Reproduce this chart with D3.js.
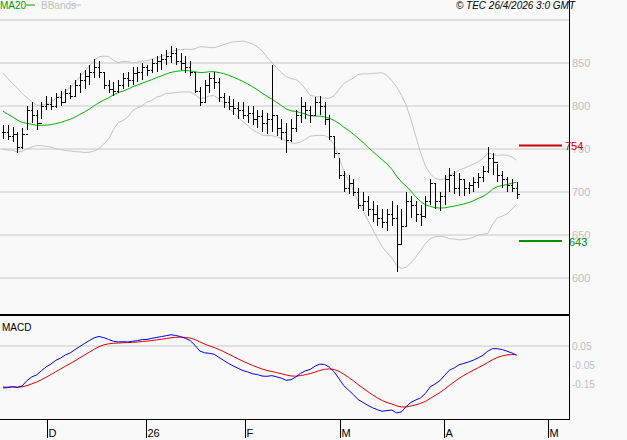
<!DOCTYPE html>
<html><head><meta charset="utf-8">
<script src="https://cdn.jsdelivr.net/npm/d3@7"></script>
<style>body{margin:0;background:#f9f9f9}svg{display:block}</style>
</head><body>
<script>
// closes before the visible window (only used to warm up MA20 / BBands / MACD)
const history = [860, 855, 862, 850, 845, 848, 840, 835, 830, 825, 822, 818, 812, 805, 800, 795, 790, 785, 780, 775,
                 778, 772, 770, 776, 772, 768];
// visible daily bars: [high, low, close]
const bars = [
  [778,762,770],[778,760,765],[776,758,768],[770,745,752],[775,750,768],[800,772,795],[805,780,790],[795,772,780],
  [805,785,800],[812,795,802],[810,795,800],[815,798,810],[818,800,805],[820,805,815],[825,808,812],[830,810,825],
  [838,815,830],[842,820,835],[848,825,840],[855,832,845],[852,832,840],[840,820,825],[830,815,820],[828,812,818],
  [830,815,825],[838,820,832],[840,822,830],[845,825,838],[845,828,840],[850,830,845],[848,835,842],[855,838,850],
  [858,840,852],[860,842,855],[865,848,858],[870,850,862],[868,848,852],[862,842,850],[858,838,845],[852,835,840],
  [840,815,818],[822,800,805],[830,805,825],[838,815,832],[840,820,828],[832,805,810],[815,798,805],[812,795,800],
  [808,790,798],[805,785,795],[805,785,790],[800,780,792],[800,778,785],[795,775,788],[795,770,780],[792,768,785],
  [848,770,790],[790,765,775],[785,760,770],[780,745,760],[785,758,775],[795,770,790],[810,780,800],[805,785,795],
  [800,780,790],[810,788,805],[812,790,800],[805,778,785],[790,760,765],[765,740,745],[740,715,720],[725,700,705],
  [720,698,710],[715,695,700],[705,680,685],[700,678,690],[695,672,680],[690,665,675],[685,660,670],[680,658,665],
  [680,655,675],[690,660,670],[685,607,640],[680,640,660],[700,660,690],[695,670,685],[690,665,675],[685,660,672],
  [695,670,690],[715,685,710],[710,680,690],[700,678,695],[720,685,715],[728,700,720],[725,698,705],[722,695,715],
  [715,695,705],[712,698,708],[718,700,712],[722,705,718],[730,712,725],[752,722,740],[745,720,735],[732,712,720],
  [725,705,715],[718,700,708],[715,700,705],[712,692,698]
];
const priceTicks = [600, 650, 700, 750, 800, 850];
const gridLevels = [600, 650, 700, 750, 800, 850, 900];
const macdTicks = [0.05, -0.05, -0.15];
const macdTickLabels = ['0.05', '-0.05', '-0.15'];
const monthLabels = ['D', '26', 'F', 'M', 'A', 'M'];
const monthIdx = [9.2, 29.8, 50.4, 70.2, 91.9, 113.5];
const resistance = 754, support = 643;

const W = 627, H = 440, plotR = 569;
const svg = d3.select('body').append('svg').attr('width', W).attr('height', H)
  .style('font-family', 'Liberation Sans, Arial, sans-serif');
svg.append('rect').attr('width', W).attr('height', H).attr('fill', '#f9f9f9');

const x = d3.scaleLinear().domain([0, 1]).range([3, 7.8]);
const y = d3.scaleLinear().domain([700, 750]).range([192, 149]);
const ym = d3.scaleLinear().domain([0.05, -0.05]).range([346, 365]);

// indicators
const closes = history.concat(bars.map(d => d[2]));
const off = history.length;
const ma = [], up = [], lo = [];
for (let i = off; i < closes.length; i++) {
  const w = closes.slice(i - 19, i + 1);
  const m = d3.mean(w), s = d3.deviation(w) * Math.sqrt(19 / 20);
  ma.push(m); up.push(m + 2 * s); lo.push(m - 2 * s);
}
function ema(arr, n) { const k = 2 / (n + 1); const out = [arr[0]]; for (let i = 1; i < arr.length; i++) out.push(arr[i] * k + out[i - 1] * (1 - k)); return out; }
const e12 = ema(closes, 12), e26 = ema(closes, 26);
const macdAll = closes.map((c, i) => (e12[i] - e26[i]) / 115);
const sigAll = ema(macdAll, 9);
const macd = macdAll.slice(off), sig = sigAll.slice(off);

// grid
svg.selectAll('.grid').data(gridLevels).join('line')
  .attr('x1', 0).attr('x2', plotR).attr('y1', d => y(d)).attr('y2', d => y(d))
  .attr('stroke', '#c8c8c8');
svg.append('line').attr('x1', 0).attr('x2', plotR).attr('y1', ym(0.05)).attr('y2', ym(0.05)).attr('stroke', '#c8c8c8');

// price axis labels
svg.selectAll('.pt').data(priceTicks).join('text')
  .attr('x', 572).attr('y', d => y(d) + 4).attr('fill', '#c0c0c0').attr('font-size', 11).text(d => d);
svg.selectAll('.mt').data(macdTicks).join('text')
  .attr('x', 572).attr('y', d => ym(d) + 4).attr('fill', '#c0c0c0').attr('font-size', 10)
  .text((d, i) => macdTickLabels[i]);

const line = d3.line().x((d, i) => x(i)).y(d => y(d));
svg.append('path').attr('d', line(up)).attr('fill', 'none').attr('stroke', '#c4c4c4');
svg.append('path').attr('d', line(lo)).attr('fill', 'none').attr('stroke', '#c4c4c4');
svg.append('path').attr('d', line(ma)).attr('fill', 'none').attr('stroke', '#00b400');

// bars
const g = svg.append('g').attr('stroke', '#000').attr('shape-rendering', 'crispEdges');
bars.forEach((d, i) => {
  const cx = Math.round(x(i)) + 0.5;
  const open = i ? bars[i - 1][2] : d[2];
  g.append('line').attr('x1', cx).attr('x2', cx).attr('y1', y(d[0])).attr('y2', y(d[1]));
  g.append('line').attr('x1', cx - 2).attr('x2', cx).attr('y1', Math.round(y(open)) + 0.5).attr('y2', Math.round(y(open)) + 0.5);
  g.append('line').attr('x1', cx).attr('x2', cx + 2).attr('y1', Math.round(y(d[2])) + 0.5).attr('y2', Math.round(y(d[2])) + 0.5);
});

// support / resistance
svg.append('line').attr('x1', 519).attr('x2', 562).attr('y1', y(resistance)).attr('y2', y(resistance)).attr('stroke', '#cc0000').attr('stroke-width', 2);
svg.append('line').attr('x1', 519).attr('x2', 562).attr('y1', y(support)).attr('y2', y(support)).attr('stroke', '#009000').attr('stroke-width', 2);
svg.append('text').attr('x', 565).attr('y', y(resistance) + 4).attr('fill', '#cc0000').attr('font-size', 11).text(resistance);
svg.append('text').attr('x', 569).attr('y', y(support) + 5).attr('fill', '#009000').attr('font-size', 11).text(support);

// macd
const mline = d3.line().x((d, i) => x(i)).y(d => ym(d));
svg.append('path').attr('d', mline(sig)).attr('fill', 'none').attr('stroke', '#dd0000');
svg.append('path').attr('d', mline(macd)).attr('fill', 'none').attr('stroke', '#0000ee');
svg.append('text').attr('x', 2).attr('y', 331).attr('font-size', 10).text('MACD');

// frame
svg.append('line').attr('x1', 0).attr('x2', plotR).attr('y1', 315).attr('y2', 315).attr('stroke', '#000').attr('stroke-width', 2);
svg.append('line').attr('x1', plotR + 0.5).attr('x2', plotR + 0.5).attr('y1', 0).attr('y2', 420).attr('stroke', '#000');
svg.append('line').attr('x1', 0).attr('x2', plotR).attr('y1', 419.5).attr('y2', 419.5).attr('stroke', '#000');

// month ticks
monthIdx.forEach((m, i) => {
  const tx = Math.round(x(m)) + 0.5;
  svg.append('line').attr('x1', tx).attr('x2', tx).attr('y1', 420).attr('y2', 438).attr('stroke', '#000');
  svg.append('text').attr('x', tx + 1).attr('y', 437).attr('font-size', 11).text(monthLabels[i]);
});

// header
svg.append('text').attr('x', 0).attr('y', 9).attr('font-size', 10).attr('fill', '#00a000').text('MA20');
svg.append('line').attr('x1', 26).attr('x2', 35).attr('y1', 5).attr('y2', 5).attr('stroke', '#00a000');
svg.append('text').attr('x', 41).attr('y', 9).attr('font-size', 10).attr('fill', '#c0c0c0').text('BBands');
svg.append('line').attr('x1', 71).attr('x2', 81).attr('y1', 5).attr('y2', 5).attr('stroke', '#c0c0c0');
svg.append('text').attr('x', 575).attr('y', 9).attr('font-size', 10).attr('font-style', 'italic')
  .attr('text-anchor', 'end').text('© TEC 26/4/2026 3:0 GMT');
</script>
</body></html>
